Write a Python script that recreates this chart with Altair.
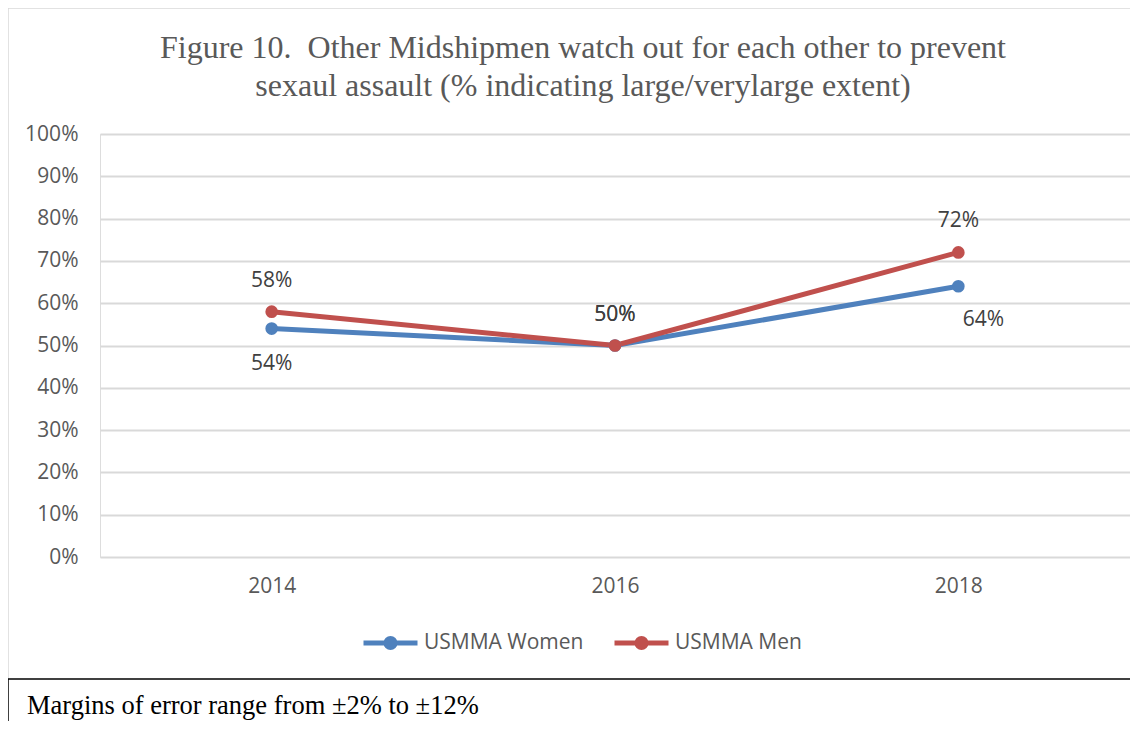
import altair as alt
import pandas as pd

years = ["2014", "2016", "2018"]
women = [54, 50, 64]
men = [58, 50, 72]
series_names = ["USMMA Women", "USMMA Men"]
series_colors = ["#4F81BD", "#C0504D"]
title_lines = ["Figure 10.\u00a0 Other Midshipmen watch out for each other to prevent",
               "sexaul assault (% indicating large/verylarge extent)"]
footnote = "Margins of error range from \u00b12% to \u00b112%"

rows = []
for name, vals in zip(series_names, [women, men]):
    for y, v in zip(years, vals):
        rows.append({"year": y, "value": v, "series": name, "label": f"{v}%"})
df = pd.DataFrame(rows)

W, H = 1030, 423
TXT = "#595959"
SANS = "Open Sans"
SERIF = "Liberation Serif"
FS = 21

x_enc = alt.X("year:N", title=None, sort=years,
              axis=alt.Axis(labelAngle=0, labelFont=SANS, labelFontSize=FS, labelColor=TXT,
                            domain=False, ticks=False, labelPadding=18))
y_enc = alt.Y("value:Q", title=None,
              scale=alt.Scale(domain=[0, 100], nice=False),
              axis=alt.Axis(values=list(range(0, 101, 10)), labelExpr="datum.value + '%'",
                            labelFont=SANS, labelFontSize=FS, labelColor=TXT,
                            domain=False, ticks=False, labelPadding=22,
                            grid=True, gridColor="#d9d9d9", gridWidth=2))

# legend symbol: stroked line with a solid dot (dot built from two concentric stroked rings)
legend_path = ("M-1,0 L1,0 "
               "M0.167,0 A0.167,0.167 0 1,1 -0.167,0 A0.167,0.167 0 1,1 0.167,0 "
               "M0.074,0 A0.074,0.074 0 1,1 -0.074,0 A0.074,0.074 0 1,1 0.074,0")
legend = alt.Legend(title=None, orient="none", direction="horizontal",
                    legendX=261, legendY=479,
                    symbolType=legend_path, symbolSize=2916, symbolStrokeWidth=5,
                    labelFont=SANS, labelFontSize=FS, labelColor=TXT,
                    columnPadding=20, labelOffset=4, padding=0)
color_enc = alt.Color("series:N", scale=alt.Scale(domain=series_names, range=series_colors),
                      sort=series_names, legend=legend)

base = alt.Chart(df)

lines = base.mark_line(strokeWidth=5).encode(x=x_enc, y=y_enc, color=color_enc)
points = base.mark_point(filled=True, size=160, opacity=1).encode(x=x_enc, y=y_enc, color=color_enc)

tstyle = dict(font=SANS, fontSize=FS, color="#404040")
men_labels = base.transform_filter(alt.datum.series == "USMMA Men").mark_text(dy=-31, **tstyle).encode(
    x=x_enc, y=y_enc, text="label:N")
women_below = base.transform_filter(
    (alt.datum.series == "USMMA Women") & (alt.datum.year == "2014")
).mark_text(dy=35, **tstyle).encode(x=x_enc, y=y_enc, text="label:N")
women_mid = base.transform_filter(
    (alt.datum.series == "USMMA Women") & (alt.datum.year == "2016")
).mark_text(dy=-31, **tstyle).encode(x=x_enc, y=y_enc, text="label:N")
women_right = base.transform_filter(
    (alt.datum.series == "USMMA Women") & (alt.datum.year == "2018")
).mark_text(dy=34, dx=25, **tstyle).encode(x=x_enc, y=y_enc, text="label:N")

# decorative frame, title and footnote
fb = alt.Chart(pd.DataFrame({"k": [0]}))
border_top = fb.mark_rule(color="#d9d9d9", strokeWidth=1.5).encode(
    x=alt.value(-92), x2=alt.value(1100), y=alt.value(-126))
border_left = fb.mark_rule(color="#d9d9d9", strokeWidth=1.5).encode(
    x=alt.value(-92), y=alt.value(-126), y2=alt.value(545))
box_top = fb.mark_rule(color="#000000", strokeWidth=1.5).encode(
    x=alt.value(-92), x2=alt.value(1100), y=alt.value(545))
box_left = fb.mark_rule(color="#000000", strokeWidth=1.5).encode(
    x=alt.value(-92), y=alt.value(545), y2=alt.value(600))
title1 = fb.mark_text(align="center", baseline="middle", font=SERIF, fontSize=32, color=TXT).encode(
    x=alt.value(483), y=alt.value(-86), text=alt.value(title_lines[0]))
title2 = fb.mark_text(align="center", baseline="middle", font=SERIF, fontSize=32, color=TXT).encode(
    x=alt.value(483), y=alt.value(-48), text=alt.value(title_lines[1]))
foot = fb.mark_text(align="left", baseline="middle", font=SERIF, fontSize=26.5, color="#000000").encode(
    x=alt.value(-73), y=alt.value(572), text=alt.value(footnote))

chart = alt.layer(
    border_top, border_left, box_top, box_left, title1, title2, foot,
    lines, points, men_labels, women_below, women_mid, women_right,
).properties(
    width=W, height=H,
    autosize=alt.AutoSizeParams(type="none"),
    padding={"left": 92, "top": 126, "right": 0, "bottom": 164},
).configure_view(stroke=None).configure(background="white")

chart.save("out.html", embed_options={"renderer": "svg", "actions": False})
